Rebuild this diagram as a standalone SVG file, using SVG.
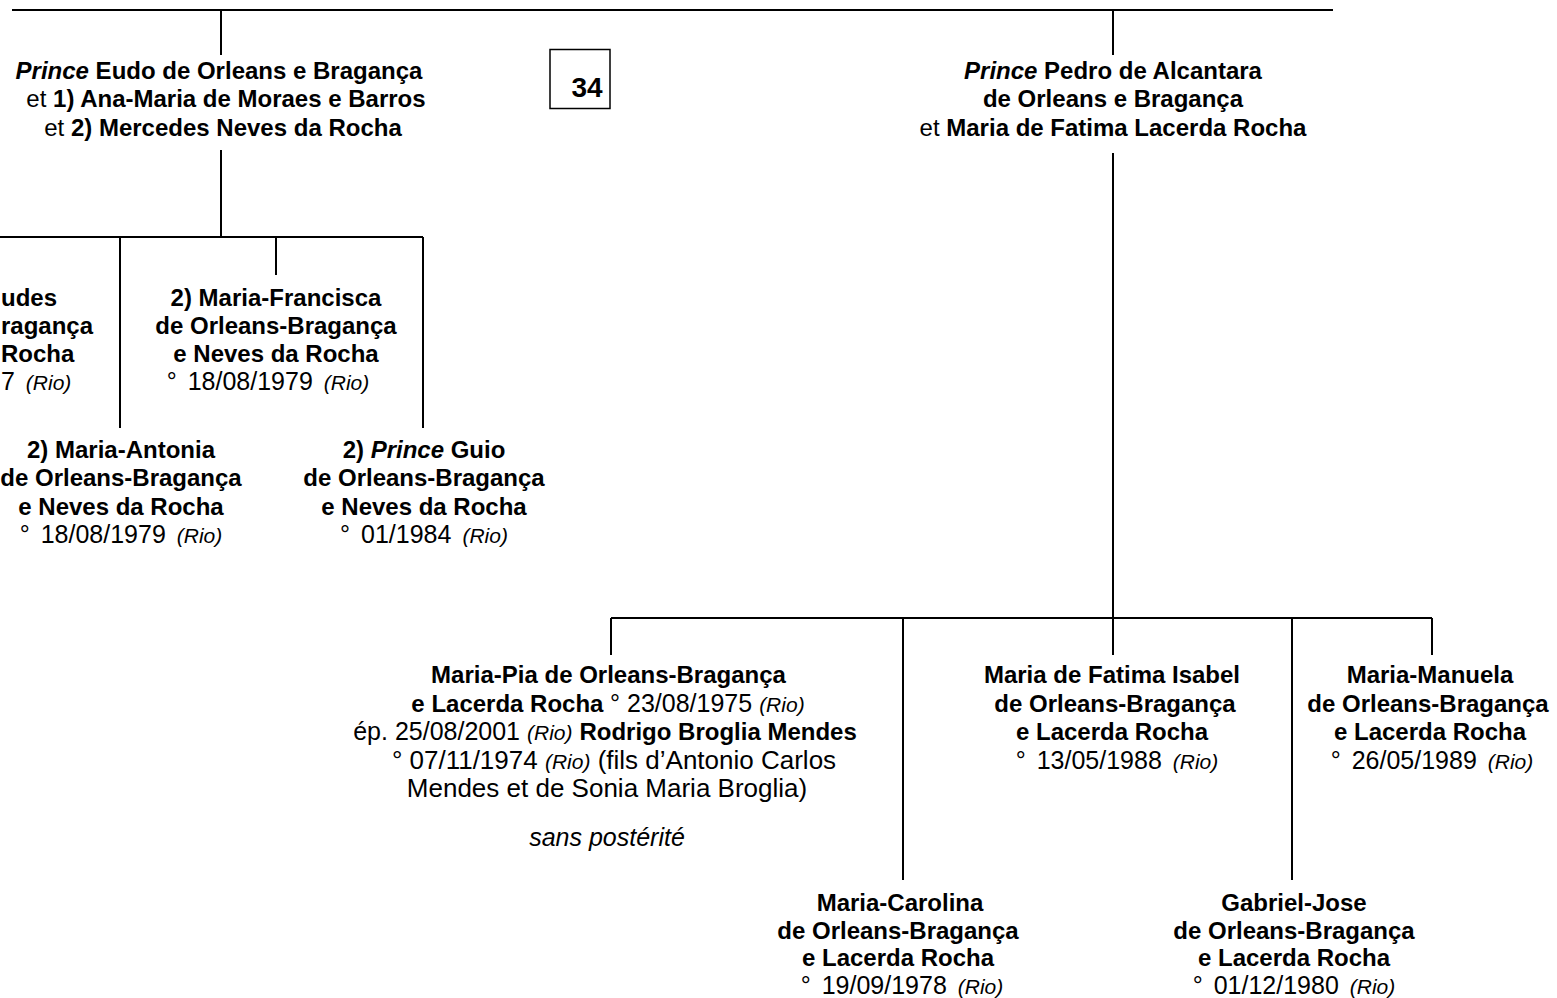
<svg xmlns="http://www.w3.org/2000/svg" width="1557" height="998" viewBox="0 0 1557 998">
<style>
text{font-family:"Liberation Sans",Arial,sans-serif;font-size:24px;fill:#000;text-anchor:middle}
.b{font-weight:bold}
.r{font-weight:normal;font-size:25px}
.r6{font-weight:normal;font-size:26px}
.i{font-style:italic}
.s{font-style:italic;font-size:21px;font-weight:normal}
.st{text-anchor:start}
.ln{stroke:#000;stroke-width:2;fill:none}
</style>
<rect width="1557" height="998" fill="#fff"/>
<g id="connectors" class="ln">
<path d="M12 10H1333"/>
<path d="M221 10V55"/>
<path d="M1113 10V55"/>
<path d="M221 150V237"/>
<path d="M0 237H423"/>
<path d="M120 237V428"/>
<path d="M276 237V275"/>
<path d="M423 237V428"/>
<path d="M1113 153V618"/>
<path d="M611 618H1432"/>
<path d="M611 618V655"/>
<path d="M903 618V880"/>
<path d="M1113 618V655"/>
<path d="M1292 618V880"/>
<path d="M1432 618V655"/>
</g>
<g id="box34">
<rect x="550" y="49.5" width="60" height="59" fill="none" stroke="#000" stroke-width="1.5"/>
<text class="b" x="587" y="97" style="font-size:28px">34</text>
</g>
<g id="eudo">
<text class="b" x="219" y="79"><tspan class="i">Prince</tspan> Eudo de Orleans e Bragança</text>
<text class="b" x="226" y="107"><tspan style="font-weight:normal">et</tspan> 1) Ana-Maria de Moraes e Barros</text>
<text class="b" x="223" y="136"><tspan style="font-weight:normal">et</tspan> 2) Mercedes Neves da Rocha</text>
</g>
<g id="pedro">
<text class="b" x="1113" y="79"><tspan class="i">Prince</tspan> Pedro de Alcantara</text>
<text class="b" x="1113" y="107">de Orleans e Bragança</text>
<text class="b" x="1113" y="136"><tspan style="font-weight:normal">et</tspan> Maria de Fatima Lacerda Rocha</text>
</g>
<g id="child-left">
<text class="b st" x="1" y="306">udes</text>
<text class="b st" x="1" y="334">ragança</text>
<text class="b st" x="1" y="362">Rocha</text>
<text class="r st" x="1" y="390">7 <tspan class="s" dx="4">(Rio)</tspan></text>
</g>
<g id="maria-francisca">
<text class="b" x="276" y="306">2) Maria-Francisca</text>
<text class="b" x="276" y="334">de Orleans-Bragança</text>
<text class="b" x="276" y="362">e Neves da Rocha</text>
<text class="r" x="268" y="390">° <tspan dx="4">18/08/1979</tspan> <tspan class="s" dx="4">(Rio)</tspan></text>
</g>
<g id="maria-antonia">
<text class="b" x="121" y="458">2) Maria-Antonia</text>
<text class="b" x="121" y="486">de Orleans-Bragança</text>
<text class="b" x="121" y="515">e Neves da Rocha</text>
<text class="r" x="121" y="543">° <tspan dx="4">18/08/1979</tspan> <tspan class="s" dx="4">(Rio)</tspan></text>
</g>
<g id="guio">
<text class="b" x="424" y="458">2) <tspan class="i">Prince</tspan> Guio</text>
<text class="b" x="424" y="486">de Orleans-Bragança</text>
<text class="b" x="424" y="515">e Neves da Rocha</text>
<text class="r" x="424" y="543">° <tspan dx="4">01/1984</tspan> <tspan class="s" dx="4">(Rio)</tspan></text>
</g>
<g id="maria-pia">
<text class="b" x="608.5" y="683">Maria-Pia de Orleans-Bragança</text>
<text class="b" x="608" y="712">e Lacerda Rocha <tspan class="r">° 23/08/1975 </tspan><tspan class="s">(Rio)</tspan></text>
<text class="r" x="605" y="740">ép. 25/08/2001 <tspan class="s">(Rio)</tspan> <tspan class="b" style="font-size:24px">Rodrigo Broglia Mendes</tspan></text>
<text class="r6" x="614" y="769">° 07/11/1974 <tspan class="s">(Rio)</tspan> (fils d’Antonio Carlos</text>
<text class="r6" x="607" y="797">Mendes et de Sonia Maria Broglia)</text>
<text class="r i" x="607" y="846">sans postérité</text>
</g>
<g id="maria-fatima-isabel">
<text class="b" x="1112" y="683">Maria de Fatima Isabel</text>
<text class="b" x="1115" y="712">de Orleans-Bragança</text>
<text class="b" x="1112" y="740">e Lacerda Rocha</text>
<text class="r" x="1117" y="769">° <tspan dx="4">13/05/1988</tspan> <tspan class="s" dx="4">(Rio)</tspan></text>
</g>
<g id="maria-manuela">
<text class="b" x="1430" y="683">Maria-Manuela</text>
<text class="b" x="1428" y="712">de Orleans-Bragança</text>
<text class="b" x="1430" y="740">e Lacerda Rocha</text>
<text class="r" x="1432" y="769">° <tspan dx="4">26/05/1989</tspan> <tspan class="s" dx="4">(Rio)</tspan></text>
</g>
<g id="maria-carolina">
<text class="b" x="900" y="910.5">Maria-Carolina</text>
<text class="b" x="898" y="938.5">de Orleans-Bragança</text>
<text class="b" x="898" y="966">e Lacerda Rocha</text>
<text class="r" x="902" y="993.5">° <tspan dx="4">19/09/1978</tspan> <tspan class="s" dx="4">(Rio)</tspan></text>
</g>
<g id="gabriel-jose">
<text class="b" x="1294" y="910.5">Gabriel-Jose</text>
<text class="b" x="1294" y="938.5">de Orleans-Bragança</text>
<text class="b" x="1294" y="966">e Lacerda Rocha</text>
<text class="r" x="1294" y="993.5">° <tspan dx="4">01/12/1980</tspan> <tspan class="s" dx="4">(Rio)</tspan></text>
</g>
</svg>
